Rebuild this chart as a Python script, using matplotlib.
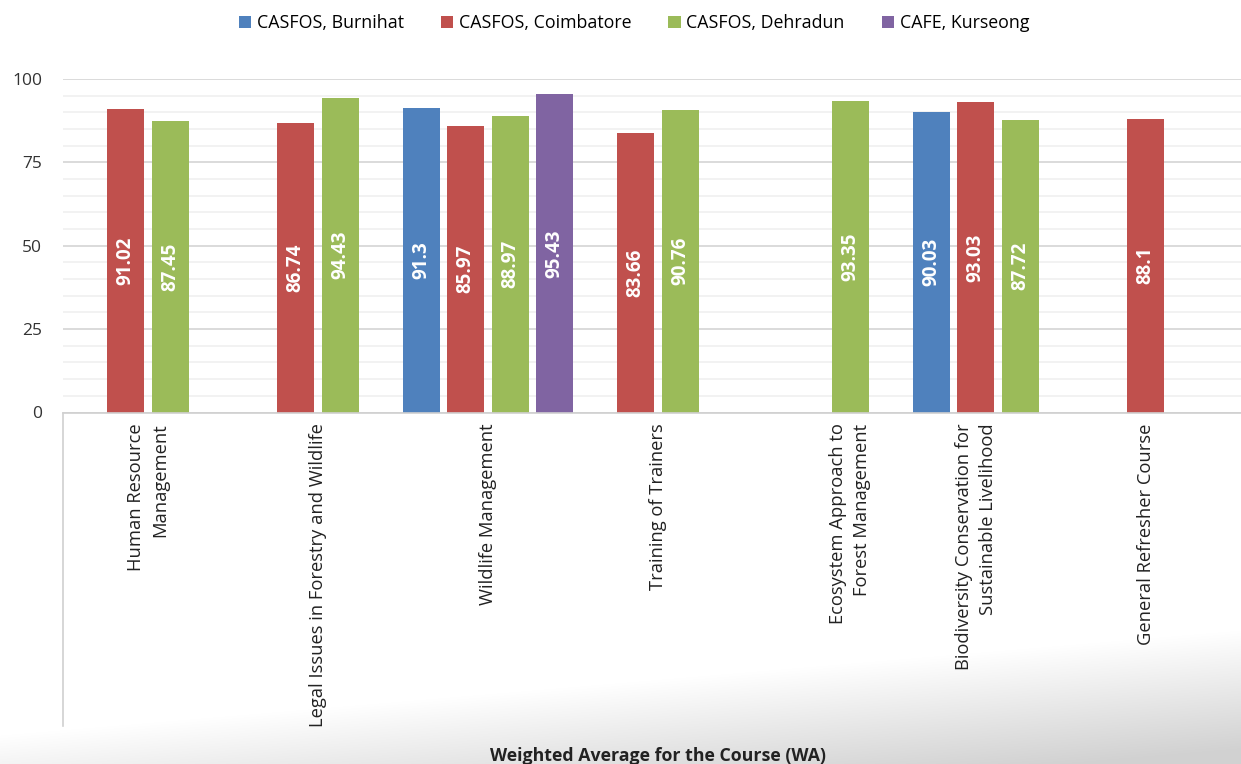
import numpy as np
import matplotlib
matplotlib.use("Agg")
import matplotlib.pyplot as plt
from matplotlib.lines import Line2D

courses = ["Human Resource\nManagement",
           "Legal Issues in Forestry and Wildlife",
           "Wildlife Management",
           "Training of Trainers",
           "Ecosystem Approach to\nForest Management",
           "Biodiversity Conservation for\nSustainable Livelihood",
           "General Refresher Course"]
series = ["CASFOS, Burnihat", "CASFOS, Coimbatore", "CASFOS, Dehradun", "CAFE, Kurseong"]
burnihat = [np.nan, np.nan, 91.3, np.nan, np.nan, 90.03, np.nan]
coimbatore = [91.02, 86.74, 85.97, 83.66, np.nan, 93.03, 88.1]
dehradun = [87.45, 94.43, 88.97, 90.76, 93.35, 87.72, np.nan]
kurseong = [np.nan, np.nan, 95.43, np.nan, np.nan, np.nan, np.nan]
colors = ["#4F81BD", "#C0504D", "#9BBB59", "#8064A2"]

W, H = 1241, 764
fig = plt.figure(figsize=(W / 100, H / 100), dpi=100)

# faint misty background at the bottom
bg = fig.add_axes([0, 0, 1, 1], zorder=-5)
xx, yy = np.meshgrid(np.arange(W), np.arange(H))
y0 = 735 - 105 * (xx / W)
d = np.clip((yy - y0) / 120, 0, 1) * 0.18
img = np.dstack([1 - d] * 3)
bg.imshow(img, extent=[0, W, H, 0], aspect="auto")
bg.set_xlim(0, W)
bg.set_ylim(H, 0)
bg.axis("off")

ax = fig.add_axes([63 / W, 1 - 412.5 / H, (W - 63) / W, (412.5 - 79) / H])
ax.set_facecolor("none")

x = np.arange(len(courses))
slot = 0.262
bw = 0.218
all_vals = np.array([burnihat, coimbatore, dehradun, kurseong], dtype=float)
all_pos = np.array([x + (i - 1.5) * slot for i in range(4)])
for i in range(4):
    pos = all_pos[i]
    v = all_vals[i]
    ax.bar(pos, v, width=bw, color=colors[i], label=series[i], zorder=3)
    for p, val in zip(pos, v):
        if not np.isnan(val):
            ax.text(p, val / 2, f"{val:g}", rotation=90, ha="center", va="center",
                    color="white", fontsize=13.5, fontweight="bold", family="Open Sans", zorder=4)

# category labels sit under the bars that are present
label_pos = [all_pos[~np.isnan(all_vals[:, j]), j].mean() for j in range(len(courses))]

ax.set_xlim(-0.5, -0.5 + (W - 63) / 170)
ax.set_ylim(0, 100)
ax.set_yticks([0, 25, 50, 75, 100])
ax.set_yticks(np.arange(0, 101, 5), minor=True)
ax.grid(axis="y", which="major", color="#D4D4D4", linewidth=1.2, zorder=0)
ax.grid(axis="y", which="minor", color="#F0F0F0", linewidth=1.2, zorder=0)
ax.tick_params(axis="both", which="both", length=0)
ax.tick_params(axis="y", pad=15, labelsize=12.5, labelcolor="#333333")
for t in ax.get_yticklabels():
    t.set_family("Open Sans")
ax.set_xticks(label_pos)
ax.set_xticklabels(courses, rotation=90, multialignment="right", fontsize=13.2,
                   family="Open Sans", color="#222222", linespacing=1.4)
ax.tick_params(axis="x", pad=8)
for s in ["top", "right", "left"]:
    ax.spines[s].set_visible(False)
ax.spines["bottom"].set_color("#D0D0D0")
ax.spines["bottom"].set_linewidth(1.2)
ax.spines["bottom"].set_zorder(5)

# vertical divider under the axis
fig.add_artist(Line2D([63 / W, 63 / W], [1 - 412.5 / H, 1 - 726 / H], color="#D0D0D0", linewidth=1.2))

fig.legend(loc="center", bbox_to_anchor=(634 / W, 1 - 23 / H), ncol=4, frameon=False,
           handlelength=0.7, handleheight=0.7, handletextpad=0.3, columnspacing=2.1,
           prop={"family": "Open Sans", "size": 12.8})

fig.text(657.5 / W, 1 - 756 / H, "Weighted Average for the Course (WA)", ha="center", va="center",
         fontsize=12.8, fontweight="bold", family="Open Sans", color="#222222")

fig.savefig("out.png", dpi=100)
